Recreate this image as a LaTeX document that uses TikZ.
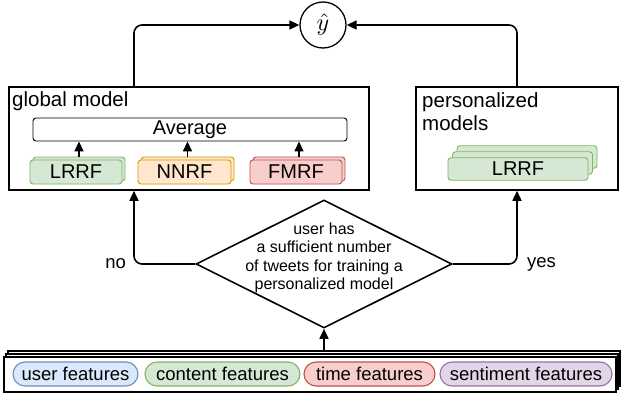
\RequirePackage{fix-cm}
\documentclass[tikz,border=0pt]{standalone}
\usepackage{fontspec}
\setmainfont{Liberation Sans}
\usetikzlibrary{shapes.geometric}
\usetikzlibrary{arrows.meta}

\definecolor{fill-green}{HTML}{D5E8D4}
\definecolor{line-green}{HTML}{82B366}
\definecolor{fill-orange}{HTML}{FFE6CC}
\definecolor{line-orange}{HTML}{D79B00}
\definecolor{fill-red}{HTML}{F8CECC}
\definecolor{line-red}{HTML}{B85450}
\definecolor{fill-blue}{HTML}{DAE8FC}
\definecolor{line-blue}{HTML}{6C8EBF}
\definecolor{fill-purple}{HTML}{E1D5E7}
\definecolor{line-purple}{HTML}{9673A6}

\tikzset{
  bigbox/.style={draw,line width=1.6pt,fill=white,inner sep=0},
  model/.style={draw,line width=0.9pt,rounded corners=3pt,inner sep=0,font=\fontsize{20}{22}\selectfont},
  pill/.style={draw,line width=1.1pt,rounded corners=12pt,minimum height=24pt,inner sep=0,font=\fontsize{18.5}{20}\selectfont},
  conn/.style={line width=1.6pt,rounded corners=8pt,-{Triangle[length=10pt,width=9pt]}},
  title/.style={anchor=north west,inner sep=0,align=left,font=\fontsize{20.5}{23}\selectfont}
}

\begin{document}
\begin{tikzpicture}[x=1pt,y=-1pt]
\useasboundingbox (0,0) rectangle (621,396);
% prediction
\node[circle,draw,line width=1.3pt,minimum size=46pt,inner sep=0] (yhat) at (323,25) {\scalebox{2.4}{$\hat{y}$}};
% global model
\node[bigbox,minimum width=360pt,minimum height=103pt] (global) at (189,138.5) {};
\node[title] (globaltxt) at (12,91.5) {global model};
\node[draw,line width=0.9pt,rounded corners=3pt,minimum width=314pt,minimum height=23pt,inner sep=0,font=\fontsize{20}{22}\selectfont] (avg) at (190,129.5) {Average};
\foreach \nm/\txt/\cx/\w/\clr in {lrrf/LRRF/76/92/green, nnrf/NNRF/184.5/93/orange, fmrf/FMRF/296/92/red} {
  \node[model,minimum width=\w pt,minimum height=24pt,fill=fill-\clr,draw=line-\clr] (\nm-b) at (\cx+3,169) {};
  \node[model,minimum width=\w pt,minimum height=24pt,fill=fill-\clr,draw=line-\clr] (\nm) at (\cx,172) {\txt};
  \draw[conn] (\nm-b.north) -- (\nm-b.north |- avg.south);
}
% personalized models
\node[bigbox,minimum width=202pt,minimum height=103pt] (pers) at (517,138.5) {};
\node[title] (perstxt) at (422,92) {personalized\\models};
\foreach \i in {2,1}
  \node[model,minimum width=140pt,minimum height=22.5pt,fill=fill-green,draw=line-green] (plrrf-\i) at (518+4.5*\i,169-6*\i) {};
\node[model,minimum width=140pt,minimum height=22.5pt,fill=fill-green,draw=line-green] (plrrf) at (518,169) {LRRF};
% decision
\node[diamond,draw,line width=1.6pt,minimum width=256pt,minimum height=128pt,inner sep=0] (cond) at (324,264) {};
\node[align=center,inner sep=0,font=\fontsize{16}{18.3}\selectfont] (condtxt) at (324,258) {user has\\a sufficient number\\of tweets for training a\\personalized model};
% features
\foreach \i in {2,1}
  \node[bigbox,minimum width=612pt,minimum height=35pt] (feat-\i) at (310+2*\i,374.5-3*\i) {};
\node[bigbox,minimum width=612pt,minimum height=35pt] (feat) at (310,374.5) {};
\foreach \nm/\txt/\cx/\w/\clr in {user/user features/75.5/125/blue, content/content features/222.5/155/green, time/time features/369.5/131/red, senti/sentiment features/526/172/purple}
  \node[pill,minimum width=\w pt,fill=fill-\clr,draw=line-\clr] (\nm) at (\cx,374) {\txt};
% connectors
\draw[conn] ([xshift=-55pt]global.north) |- (yhat.west);
\draw[conn] (pers.north) |- (yhat.east);
\draw[conn] (cond.west) -| node[pos=.5,left=4pt,font=\fontsize{18.5}{20}\selectfont] (nolbl) {no} ([xshift=-55pt]global.south);
\draw[conn] (cond.east) -| node[pos=.5,right=6pt,font=\fontsize{18.5}{20}\selectfont] (yeslbl) {yes} (pers.south);
\draw[conn] (feat-2.north -| cond.south) -- (cond.south);
\end{tikzpicture}
\end{document}
